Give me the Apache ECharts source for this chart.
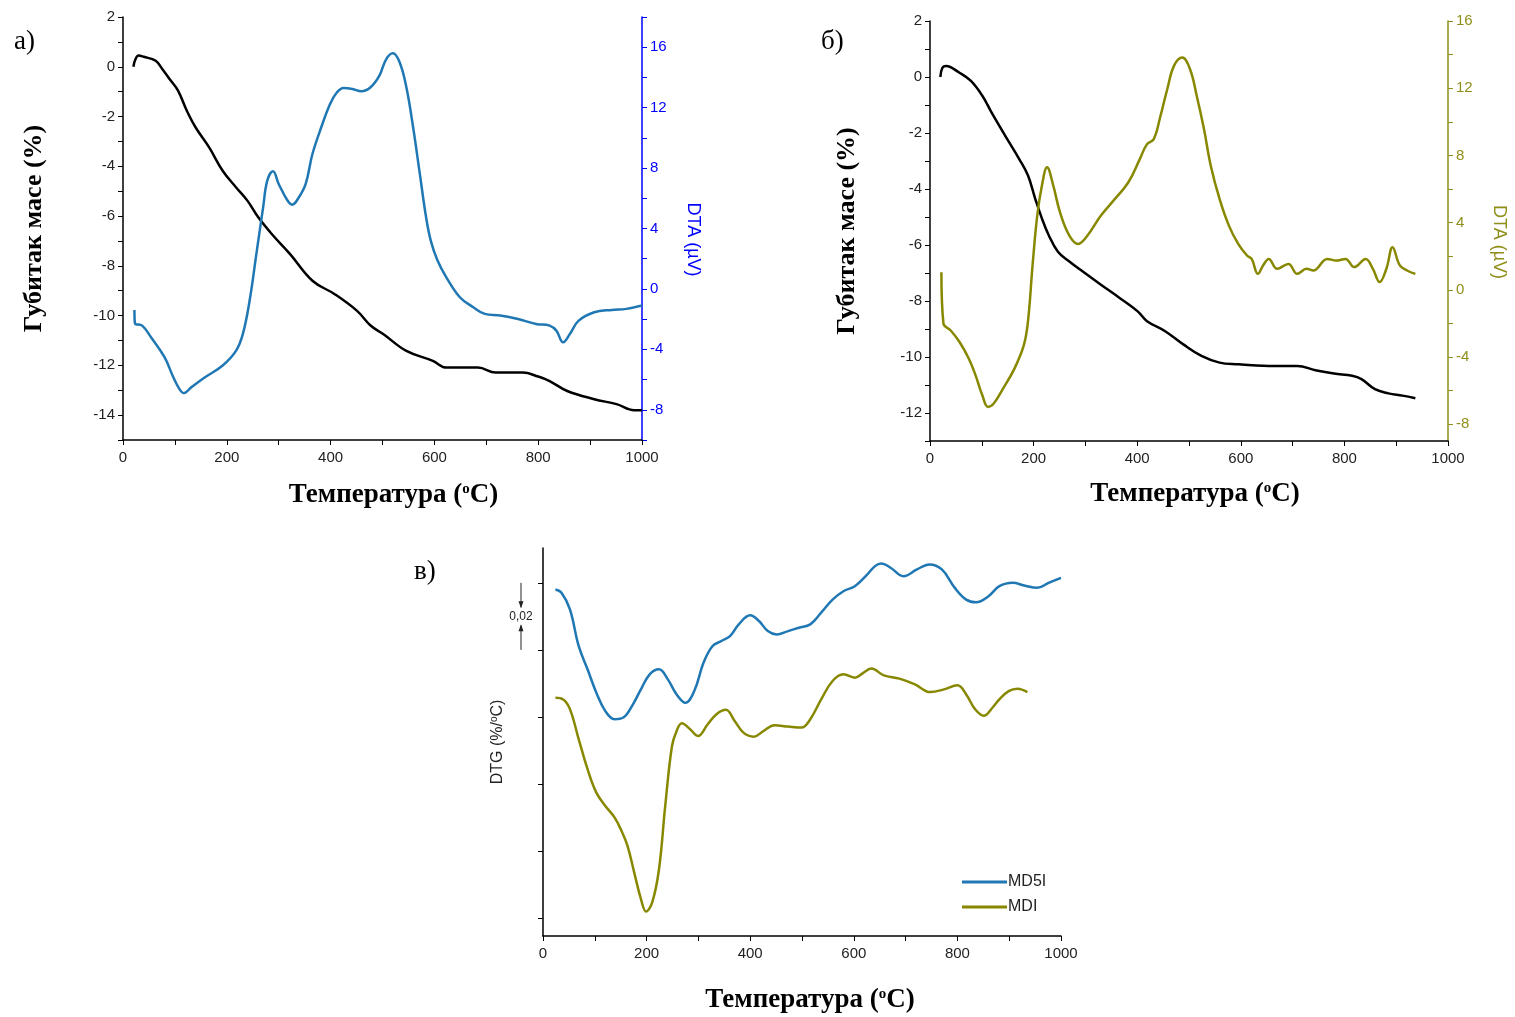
<!DOCTYPE html>
<html>
<head>
<meta charset="utf-8">
<script src="https://cdn.jsdelivr.net/npm/echarts@6/dist/echarts.min.js"></script>
<style>
html,body{margin:0;padding:0;background:#fff;}
#c{width:1515px;height:1017px;}
</style>
</head>
<body>
<div id="c"></div>
<script>
// ---- Panel а): TG (mass loss, %) and DTA (µV) for MD5I ----
const tgA = [[20,0],[24,0.3],[30,0.45],[40,0.4],[63,0.24],[76,-0.1],[90,-0.5],[106,-0.96],[123,-1.77],[140,-2.44],[166,-3.24],[192,-4.18],[218,-4.85],[240,-5.39],[261,-6.06],[287,-6.73],[322,-7.53],[365,-8.6],[408,-9.14],[451,-9.81],[477,-10.4],[502,-10.75],[546,-11.42],[597,-11.82],[623,-12.09],[684,-12.09],[718,-12.29],[770,-12.29],[800,-12.45],[822,-12.63],[856,-13.03],[908,-13.36],[951,-13.56],[985,-13.8],[1000,-13.8]];
const dtaA = [[22,-1.39],[23,-2.27],[37,-2.43],[54,-3.2],[80,-4.52],[97,-5.85],[110,-6.7],[117,-6.9],[132,-6.5],[158,-5.85],[192,-5.07],[218,-4.08],[231,-2.98],[244,-0.77],[257,2.32],[270,5.4],[278,7.17],[289,7.79],[300,6.95],[317,5.85],[326,5.58],[339,6.07],[352,6.95],[365,8.93],[382,10.7],[399,12.24],[412,13.0],[425,13.3],[442,13.24],[459,13.08],[477,13.35],[494,14.12],[507,15.2],[520,15.6],[533,15.0],[546,13.35],[559,10.7],[572,7.6],[584,4.74],[593,3.2],[606,1.88],[623,0.77],[649,-0.55],[675,-1.21],[697,-1.65],[727,-1.76],[761,-1.99],[796,-2.32],[822,-2.43],[835,-2.76],[848,-3.53],[861,-2.98],[878,-2.1],[908,-1.54],[942,-1.39],[970,-1.32],[1000,-1.1]];

// ---- Panel б): TG and DTA for MDI ----
const tgB = [[20,0],[24,0.33],[31,0.39],[57,0.15],[79,-0.14],[101,-0.67],[119,-1.27],[145,-2.09],[172,-2.92],[189,-3.51],[203,-4.34],[216,-5.05],[229,-5.64],[247,-6.24],[269,-6.59],[295,-6.95],[330,-7.42],[366,-7.89],[401,-8.37],[419,-8.72],[454,-9.08],[489,-9.55],[524,-9.96],[559,-10.2],[595,-10.26],[630,-10.3],[674,-10.32],[709,-10.32],[744,-10.47],[780,-10.59],[815,-10.67],[833,-10.79],[859,-11.15],[885,-11.3],[912,-11.38],[937,-11.47]];
const dtaB = [[22,1.05],[26,-2.02],[40,-2.42],[57,-3.11],[75,-4.1],[88,-5.09],[101,-6.28],[112,-6.97],[123,-6.77],[141,-5.88],[163,-4.69],[181,-3.31],[189,-1.92],[198,1.45],[207,4.42],[216,6.2],[226,7.29],[238,6.2],[251,4.61],[269,3.23],[286,2.73],[304,3.23],[330,4.42],[357,5.41],[383,6.4],[405,7.78],[419,8.67],[432,8.97],[445,10.36],[458,11.94],[471,13.33],[487,13.82],[502,13.13],[515,11.54],[529,9.56],[542,7.39],[559,5.41],[577,3.82],[595,2.73],[612,2.04],[621,1.84],[633,0.95],[643,1.45],[654,1.84],[670,1.25],[692,1.54],[709,0.95],[727,1.25],[740,1.15],[767,1.84],[784,1.74],[802,1.84],[819,1.35],[841,1.84],[855,1.25],[868,0.46],[881,1.25],[893,2.53],[907,1.45],[921,1.15],[937,0.95]];

// ---- Panel в): DTG (%/°C) ----
const dtgMD5I = [[24,-0.0020],[36,-0.0030],[52,-0.0079],[69,-0.0189],[86,-0.0258],[103,-0.0328],[120,-0.0382],[138,-0.0407],[155,-0.0402],[172,-0.0367],[189,-0.0318],[206,-0.0273],[224,-0.0258],[241,-0.0288],[258,-0.0333],[275,-0.0358],[292,-0.0323],[310,-0.0238],[327,-0.0189],[344,-0.0174],[361,-0.0159],[378,-0.0124],[400,-0.0097],[417,-0.0114],[434,-0.0144],[451,-0.0154],[473,-0.0144],[494,-0.0134],[516,-0.0124],[537,-0.0089],[559,-0.0050],[580,-0.0025],[602,-0.0010],[623,0.0020],[641,0.0050],[653,0.0058],[671,0.0045],[696,0.0020],[722,0.0040],[746,0.0055],[770,0.0040],[795,-0.0015],[817,-0.0050],[836,-0.0058],[860,-0.0040],[881,-0.0010],[907,0.0000],[929,-0.0008],[954,-0.0015],[976,0.0000],[1000,0.0015]];
const dtgMDI = [[24,-0.0343],[39,-0.0348],[52,-0.0377],[69,-0.0467],[86,-0.0556],[103,-0.0626],[120,-0.0665],[138,-0.0700],[150,-0.0735],[163,-0.0784],[176,-0.0864],[189,-0.0943],[199,-0.0981],[211,-0.0953],[224,-0.0854],[236,-0.0665],[249,-0.0487],[258,-0.0442],[268,-0.0419],[284,-0.0437],[299,-0.0457],[318,-0.0422],[335,-0.0392],[353,-0.0379],[370,-0.0412],[387,-0.0447],[407,-0.0459],[426,-0.0442],[447,-0.0425],[473,-0.0429],[499,-0.0432],[516,-0.0407],[537,-0.0348],[559,-0.0293],[580,-0.0273],[602,-0.0283],[619,-0.0268],[634,-0.0256],[658,-0.0276],[688,-0.0286],[718,-0.0303],[748,-0.0326],[774,-0.0318],[800,-0.0306],[817,-0.0333],[834,-0.0377],[851,-0.0397],[868,-0.0372],[881,-0.0348],[899,-0.0323],[916,-0.0316],[935,-0.0326]];

// ---- Tick values ----
const xTicks = [0,100,200,300,400,500,600,700,800,900,1000];
const xLabels = [0,200,400,600,800,1000];
const tgATicks = [-15,-14,-13,-12,-11,-10,-9,-8,-7,-6,-5,-4,-3,-2,-1,0,1,2];
const tgALabels = [-14,-12,-10,-8,-6,-4,-2,0,2];
const dtaATicks = [-10,-8,-6,-4,-2,0,2,4,6,8,10,12,14,16,18];
const dtaALabels = [-8,-4,0,4,8,12,16];
const tgBTicks = [-13,-12,-11,-10,-9,-8,-7,-6,-5,-4,-3,-2,-1,0,1,2];
const tgBLabels = [-12,-10,-8,-6,-4,-2,0,2];
const dtaBTicks = [-8,-6,-4,-2,0,2,4,6,8,10,12,14,16];
const dtaBLabels = [-8,-4,0,4,8,12,16];
const dtgTicks = [-0.10,-0.08,-0.06,-0.04,-0.02,0];
const scaleBar = [0,-0.02];

const BLUE = '#1f78b4', OLIVE = '#888800', PUREBLUE = '#0000ff', OLIVE_AX = '#8f8f1a';
const SANS = 'Liberation Sans', SERIF = 'Liberation Serif';
const plain = v => String(v);

function xAxisDef(gi, nameGap, shift){
  return {
    type:'value', gridIndex:gi, min:0, max:1000,
    name:'{t|Температура (}{s|o}{t|C)}', nameLocation:'middle', nameGap:nameGap,
    nameTextStyle:{padding:[0,0,0,shift],rich:{t:{fontFamily:SERIF,fontWeight:'bold',fontSize:27,color:'#000'},s:{fontFamily:SERIF,fontWeight:'bold',fontSize:15,color:'#000',verticalAlign:'top',padding:[0,0,12,0]}}},
    axisLine:{show:true,onZero:false,lineStyle:{color:'#000',width:1.5}},
    axisTick:{show:true,length:5,customValues:xTicks,lineStyle:{color:'#000'}},
    axisLabel:{customValues:xLabels,formatter:plain,fontFamily:SANS,fontSize:15,color:'#222',margin:10},
    splitLine:{show:false}
  };
}
function tgAxisDef(gi,min,max,ticks,labels,nameGap){
  return {
    type:'value', gridIndex:gi, min:min, max:max, position:'left',
    name:'Губитак масе (%)', nameLocation:'middle', nameGap:nameGap,
    nameTextStyle:{fontFamily:SERIF,fontWeight:'bold',fontSize:26,color:'#000'},
    axisLine:{show:true,onZero:false,lineStyle:{color:'#000',width:1.5}},
    axisTick:{show:true,length:5,customValues:ticks,lineStyle:{color:'#000'}},
    axisLabel:{customValues:labels,formatter:plain,fontFamily:SANS,fontSize:15,color:'#222',margin:8},
    splitLine:{show:false}
  };
}
function dtaAxisDef(gi,min,max,ticks,labels,color,lblColor,nameGap){
  return {
    type:'value', gridIndex:gi, min:min, max:max, position:'right',
    name:'DTA (µV)', nameLocation:'middle', nameGap:nameGap, nameRotate:-90,
    nameTextStyle:{fontFamily:SANS,fontSize:18,color:lblColor,padding:[0,0,0,22]},
    axisLine:{show:true,onZero:false,lineStyle:{color:color,width:1.5}},
    axisTick:{show:true,length:5,customValues:ticks,lineStyle:{color:color}},
    axisLabel:{customValues:labels,formatter:plain,fontFamily:SANS,fontSize:15,color:lblColor,margin:8},
    splitLine:{show:false}
  };
}
function lineSeries(name,data,xi,yi,color,w){
  return {name:name,type:'line',xAxisIndex:xi,yAxisIndex:yi,data:data,smooth:0.4,showSymbol:false,symbol:'none',
    lineStyle:{color:color,width:w},itemStyle:{color:color},z:3,animation:false};
}
function labels(){
  return [
    {type:'text',left:14,top:28,style:{text:'а)',font:'27px "Liberation Serif"',fill:'#000'}},
    {type:'text',left:821,top:28,style:{text:'б)',font:'27px "Liberation Serif"',fill:'#000'}},
    {type:'text',left:414,top:558,style:{text:'в)',font:'27px "Liberation Serif"',fill:'#000'}}
  ];
}

const chart = echarts.init(document.getElementById('c'), null, {renderer:'canvas'});
const option = {
  backgroundColor:'#fff',
  animation:false,
  grid:[
    {left:123, right:1515-642, top:17, bottom:1017-440},
    {left:930, right:1515-1448, top:21, bottom:1017-441},
    {left:543, right:1515-1061, top:548, bottom:1017-936}
  ],
  xAxis:[ xAxisDef(0,42,22), xAxisDef(1,40,12), xAxisDef(2,51,16) ],
  yAxis:[
    tgAxisDef(0,-15,2,tgATicks,tgALabels,76),
    dtaAxisDef(0,-10,18,dtaATicks,dtaALabels,PUREBLUE,PUREBLUE,42),
    tgAxisDef(1,-13,2,tgBTicks,tgBLabels,70),
    dtaAxisDef(1,-9,16,dtaBTicks,dtaBLabels,OLIVE_AX,OLIVE_AX,42),
    {
      type:'value', gridIndex:2, min:-0.1054, max:0.0104, position:'left',
      name:'{t|DTG (%/}{s|o}{t|C)}', nameLocation:'middle', nameGap:36,
      nameTextStyle:{rich:{t:{fontFamily:SANS,fontSize:16,color:'#222'},s:{fontFamily:SANS,fontSize:10,color:'#222',verticalAlign:'top',padding:[0,0,8,0]}}},
      axisLine:{show:true,onZero:false,lineStyle:{color:'#000',width:1.5}},
      axisTick:{show:true,length:5,customValues:dtgTicks,lineStyle:{color:'#000'}},
      axisLabel:{show:false},
      splitLine:{show:false}
    }
  ],
  legend:{
    data:['MD5I','MDI'], orient:'vertical', left:957, top:869, itemWidth:45, itemHeight:3, itemGap:9,
    icon:'rect', textStyle:{fontFamily:SANS,fontSize:16,color:'#222',padding:[0,0,0,-4]}
  },
  series:[
    lineSeries('TG а',tgA,0,0,'#000',2.5),
    lineSeries('DTA а',dtaA,0,1,BLUE,2.5),
    lineSeries('TG б',tgB,1,2,'#000',2.5),
    lineSeries('DTA б',dtaB,1,3,OLIVE,2.5),
    lineSeries('MD5I',dtgMD5I,2,4,BLUE,2.5),
    lineSeries('MDI',dtgMDI,2,4,OLIVE,2.5)
  ],
  graphic:labels()
};
chart.setOption(option);

// scale bar showing 0,02 between two DTG ticks
const yTop = chart.convertToPixel({yAxisIndex:4}, scaleBar[0]);
const yBot = chart.convertToPixel({yAxisIndex:4}, scaleBar[1]);
const xAx = chart.convertToPixel({xAxisIndex:2}, 0);
const bx = xAx - 22;
const mid = (yTop + yBot) / 2;
chart.setOption({graphic:labels().concat([
  {type:'line',shape:{x1:bx,y1:yTop,x2:bx,y2:mid-9},style:{stroke:'#222',lineWidth:1}},
  {type:'polygon',shape:{points:[[bx-2.5,mid-15],[bx+2.5,mid-15],[bx,mid-8]]},style:{fill:'#222'}},
  {type:'line',shape:{x1:bx,y1:yBot,x2:bx,y2:mid+9},style:{stroke:'#222',lineWidth:1}},
  {type:'polygon',shape:{points:[[bx-2.5,mid+15],[bx+2.5,mid+15],[bx,mid+8]]},style:{fill:'#222'}},
  {type:'text',x:bx,y:mid,style:{text:'0,02',font:'12px "Liberation Sans"',fill:'#222',align:'center',verticalAlign:'middle'}}
])}, {replaceMerge:['graphic']});
</script>
</body>
</html>
